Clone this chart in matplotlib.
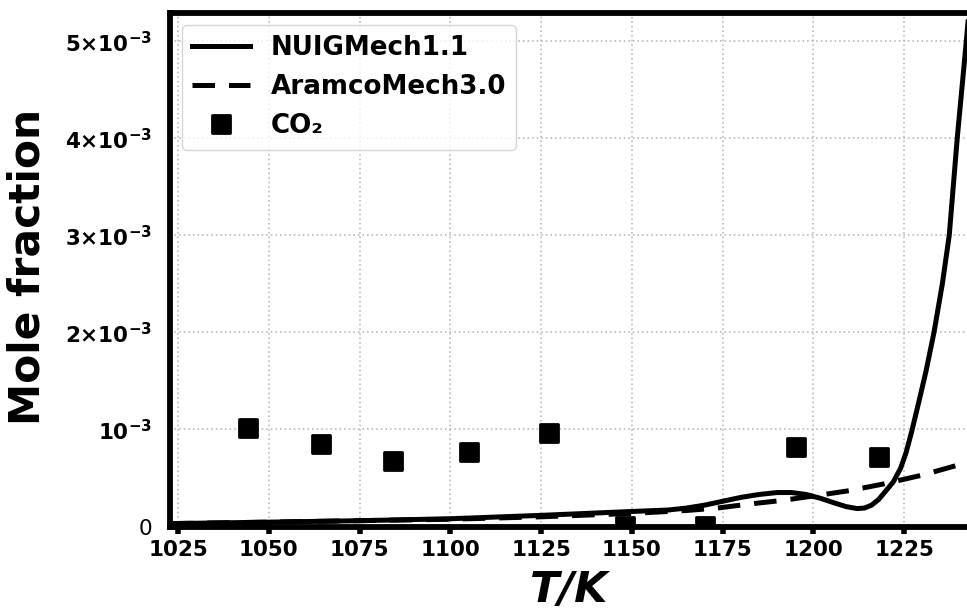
import matplotlib
matplotlib.use("Agg")
import matplotlib.pyplot as plt
from matplotlib.markers import MarkerStyle
import numpy as np

# ---- data (mole fraction in units of 1e-3) ----
nuig_T = [1023, 1050, 1075, 1100, 1125, 1150, 1160, 1165, 1170, 1175, 1180,
          1185, 1190, 1194, 1198, 1202, 1206, 1209, 1212, 1214, 1216, 1218,
          1220, 1222, 1224, 1225.5, 1227, 1229, 1231, 1233.2, 1235.5, 1237.4,
          1239.6, 1242, 1244]
nuig_y = [0.03, 0.045, 0.06, 0.08, 0.115, 0.155, 0.17, 0.19, 0.22, 0.26, 0.30,
          0.33, 0.35, 0.35, 0.33, 0.29, 0.24, 0.205, 0.185, 0.19, 0.22, 0.28,
          0.37, 0.46, 0.60, 0.76, 0.97, 1.28, 1.6, 2.0, 2.5, 3.0,
          4.0, 4.96, 5.8]

aramco_T = [1023, 1050, 1075, 1100, 1125, 1150, 1165, 1173.5, 1182, 1191.7, 1201,
            1210, 1219.5, 1230, 1242.4, 1250]
aramco_y = [0.03, 0.045, 0.06, 0.075, 0.10, 0.135, 0.165, 0.19, 0.23, 0.27, 0.32,
            0.37, 0.44, 0.53, 0.66, 0.74]

co2_T = [1044.3, 1064.3, 1084.2, 1105.2, 1127.3, 1148.1, 1170.2, 1195.2, 1218.1]
co2_y = [1.01, 0.85, 0.68, 0.77, 0.96, 0.01, 0.005, 0.815, 0.72]

xticks = [1025, 1050, 1075, 1100, 1125, 1150, 1175, 1200, 1225]
yticks = [0, 1, 2, 3, 4, 5]
ytick_labels = ['0', r'$10^{-3}$', r'$2{\times}10^{-3}$', r'$3{\times}10^{-3}$',
                r'$4{\times}10^{-3}$', r'$5{\times}10^{-3}$']

plt.rcParams['font.family'] = ['DejaVu Sans']
plt.rcParams['mathtext.fontset'] = 'dejavusans'
plt.rcParams['mathtext.default'] = 'bf'

fig = plt.figure(figsize=(9.67, 6.12), dpi=100)
W, H = 967, 612
left_px, right_px, bottom_px, top_px = 170, 995, 527, 13
ax = fig.add_axes([left_px / W, (H - bottom_px) / H,
                   (right_px - left_px) / W, (bottom_px - top_px) / H])

scale = 1e-3
ax.plot(nuig_T, np.array(nuig_y) * scale, '-', color='black', lw=3.6,
        solid_joinstyle='round', label='NUIGMech1.1')
ax.plot(aramco_T, np.array(aramco_y) * scale, '--', color='black', lw=3.6,
        dashes=(4.5, 2.8), label='AramcoMech3.0')
ax.plot(co2_T, np.array(co2_y) * scale, marker=MarkerStyle('s', joinstyle='round'),
        color='black', ms=13, mew=2, markeredgecolor='black', linestyle='none',
        label='CO\u2082')

ax.set_xlim(1022.8, 1250)
ax.set_ylim(-0.005e-3, 5.29e-3)

ax.set_xticks(xticks)
ax.set_xticklabels([str(t) for t in xticks], fontsize=15.5, fontweight='bold')
ax.set_yticks(np.array(yticks) * scale)
ax.set_yticklabels(ytick_labels, fontsize=15.5)
ax.tick_params(axis='x', direction='out', length=5, width=4, pad=4)
ax.tick_params(axis='y', length=0, pad=13)

for s in ax.spines.values():
    s.set_linewidth(4.2)

ax.grid(True, linestyle=(0, (1, 2)), color='#b0b0b0', linewidth=1.1)
ax.set_axisbelow(True)

ax.set_ylabel('Mole fraction', fontsize=30.5, fontweight='bold')
ax.yaxis.set_label_coords(-0.147, 0.505)
ax.set_xlabel('T/K', fontsize=31, fontweight='bold', style='italic')
ax.xaxis.set_label_coords(0.484, -0.082)

leg = ax.legend(loc='upper left', handlelength=2.2,
                prop={'weight': 'bold', 'size': 18.8}, borderaxespad=0.45)
leg.get_frame().set_edgecolor('#cccccc')

fig.savefig('out.png', dpi=100)
